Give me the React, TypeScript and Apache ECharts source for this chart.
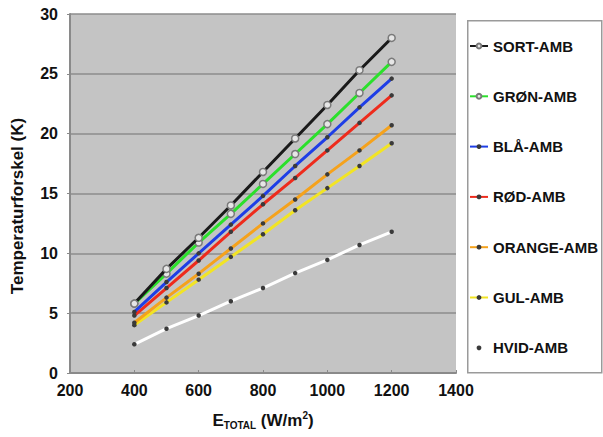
import React, { useEffect, useRef } from "react";
import * as echarts from "echarts";

const xValues = [400, 500, 600, 700, 800, 900, 1000, 1100, 1200];
const seriesNames = ["SORT-AMB", "GRØN-AMB", "BLÅ-AMB", "RØD-AMB", "ORANGE-AMB", "GUL-AMB", "HVID-AMB"];
const sortAmb = [5.8, 8.7, 11.3, 14.0, 16.8, 19.6, 22.4, 25.3, 28.0];
const gronAmb = [5.8, 8.3, 10.9, 13.3, 15.8, 18.3, 20.8, 23.4, 26.0];
const blaAmb = [5.1, 7.6, 10.0, 12.4, 14.8, 17.3, 19.7, 22.2, 24.6];
const rodAmb = [4.8, 7.1, 9.4, 11.8, 14.1, 16.3, 18.6, 20.9, 23.2];
const orangeAmb = [4.2, 6.3, 8.3, 10.4, 12.5, 14.5, 16.6, 18.6, 20.7];
const gulAmb = [4.0, 5.9, 7.8, 9.7, 11.6, 13.6, 15.45, 17.3, 19.2];
const hvidAmb = [2.4, 3.7, 4.8, 6.0, 7.1, 8.35, 9.45, 10.7, 11.8];
const allValues = [sortAmb, gronAmb, blaAmb, rodAmb, orangeAmb, gulAmb, hvidAmb];

const lineColors = ["#1a1a1a", "#2be02b", "#1e3ee6", "#ee2b1c", "#f5a21c", "#f2e424", "#ffffff"];
const FONT = "'Liberation Sans', Arial, sans-serif";

export default function App() {
  const ref = useRef<HTMLDivElement>(null);
  useEffect(() => {
    if (!ref.current) return;
    const chart = echarts.init(ref.current, undefined, { renderer: "svg" });
    const series = seriesNames.map((name, i) => {
      const open = i < 2;
      return {
        name,
        type: "line",
        data: xValues.map((x, j) => [x, allValues[i][j]]),
        symbol: "circle",
        symbolSize: open ? 7 : 4.5,
        showSymbol: true,
        lineStyle: { color: lineColors[i], width: 3 },
        itemStyle: open
          ? { color: "#e6e6e6", borderColor: "#7a7a7a", borderWidth: 1.5 }
          : { color: "#3a3a3a", borderWidth: 0 },
        z: 10 - i,
      };
    });
    chart.setOption({
      animation: false,
      backgroundColor: "#ffffff",
      grid: {
        left: 70,
        right: 147,
        top: 14,
        bottom: 64,
        show: true,
        backgroundColor: "#c4c4c4",
        borderWidth: 0,
      },
      xAxis: {
        type: "value",
        min: 200,
        max: 1400,
        interval: 200,
        axisLine: { show: true, lineStyle: { color: "#8a8a8a", width: 2 } },
        axisTick: { show: true, length: 3, inside: true, lineStyle: { color: "#8a8a8a" } },
        splitLine: { show: false },
        axisLabel: {
          color: "#111",
          fontSize: 16,
          fontWeight: "bold",
          fontFamily: FONT,
          margin: 9,
          formatter: (v: number) => String(v),
        },
      },
      yAxis: {
        type: "value",
        min: 0,
        max: 30,
        interval: 5,
        axisLine: { show: true, lineStyle: { color: "#8a8a8a", width: 2 } },
        axisTick: { show: true, length: 3, lineStyle: { color: "#8a8a8a" } },
        splitLine: { show: true, lineStyle: { color: "#8c8c8c", width: 1.5 } },
        axisLabel: {
          color: "#111",
          fontSize: 16,
          fontWeight: "bold",
          fontFamily: FONT,
          margin: 12,
          formatter: (v: number) => String(v),
        },
      },
      legend: {
        orient: "vertical",
        left: 469,
        top: 38,
        padding: 0,
        itemWidth: 18,
        itemHeight: 6,
        itemGap: 34.3,
        data: seriesNames,
        textStyle: {
          color: "#111",
          fontSize: 15,
          fontWeight: "bold",
          fontFamily: FONT,
          lineHeight: 16,
        },
      },
      graphic: [
        {
          type: "rect",
          left: 467,
          top: 20,
          shape: { width: 134, height: 352 },
          style: { fill: "#ffffff", stroke: "#9a9a9a", lineWidth: 1.5 },
          z: -1,
        },
        {
          type: "text",
          x: 17,
          y: 206,
          rotation: Math.PI / 2,
          style: {
            text: "Temperaturforskel (K)",
            fill: "#111",
            font: `bold 17px ${FONT}`,
            textAlign: "center",
            textVerticalAlign: "middle",
          },
        },
        {
          type: "text",
          x: 263,
          y: 420,
          style: {
            text: "{e|E}{s|TOTAL}{e| (W/m}{p|2}{e|)}",
            fill: "#111",
            textAlign: "center",
            textVerticalAlign: "middle",
            rich: {
              e: { fontSize: 17, fontWeight: "bold", fontFamily: FONT, lineHeight: 20, fill: "#111" },
              s: { fontSize: 10, fontWeight: "bold", fontFamily: FONT, verticalAlign: "bottom", lineHeight: 12, fill: "#111" },
              p: { fontSize: 10, fontWeight: "bold", fontFamily: FONT, verticalAlign: "top", lineHeight: 12, fill: "#111" },
            },
          },
        },
      ],
      series,
    });
    return () => chart.dispose();
  }, []);
  return (
    <div
      ref={ref}
      style={{ position: "fixed", left: 0, top: 0, width: 603, height: 437 }}
    />
  );
}
